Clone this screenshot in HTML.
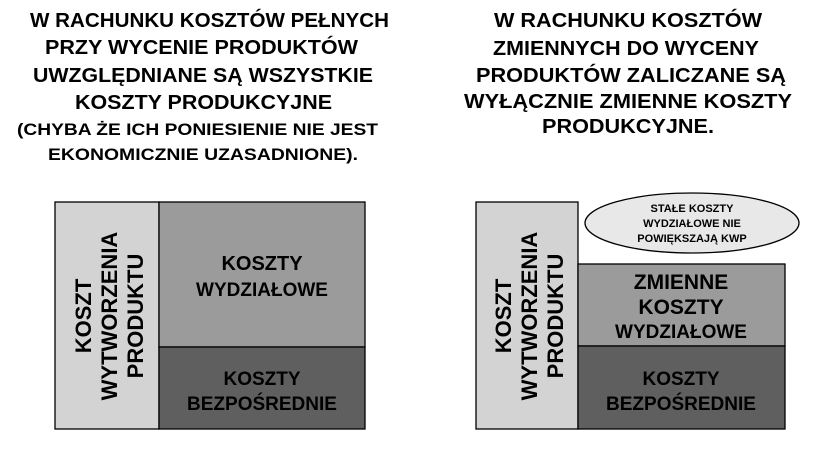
<!DOCTYPE html>
<html><head><meta charset="utf-8"><style>
html,body{margin:0;padding:0;background:#fff;}
svg{display:block;}
text{font-family:"Liberation Sans",Arial,sans-serif;font-weight:bold;fill:#000;}
</style></head><body>
<svg width="828" height="466" viewBox="0 0 828 466" xmlns="http://www.w3.org/2000/svg">
<rect width="828" height="466" fill="#fff"/>
<!-- Left title -->
<g font-size="20">
<text x="30" y="27" textLength="359" lengthAdjust="spacingAndGlyphs">W RACHUNKU KOSZTÓW PEŁNYCH</text>
<text x="45" y="54" textLength="313" lengthAdjust="spacingAndGlyphs">PRZY WYCENIE PRODUKTÓW</text>
<text x="33" y="82" textLength="340" lengthAdjust="spacingAndGlyphs">UWZGLĘDNIANE SĄ WSZYSTKIE</text>
<text x="75" y="109" textLength="257" lengthAdjust="spacingAndGlyphs">KOSZTY PRODUKCYJNE</text>
</g>
<g font-size="17">
<text x="17" y="135" textLength="361" lengthAdjust="spacingAndGlyphs">(CHYBA ŻE ICH PONIESIENIE NIE JEST</text>
<text x="48" y="160" textLength="310" lengthAdjust="spacingAndGlyphs">EKONOMICZNIE UZASADNIONE).</text>
</g>
<!-- Right title -->
<g font-size="20">
<text x="494" y="27" textLength="268" lengthAdjust="spacingAndGlyphs">W RACHUNKU KOSZTÓW</text>
<text x="493" y="55" textLength="266" lengthAdjust="spacingAndGlyphs">ZMIENNYCH DO WYCENY</text>
<text x="476" y="82" textLength="310" lengthAdjust="spacingAndGlyphs">PRODUKTÓW ZALICZANE SĄ</text>
<text x="464" y="108" textLength="328" lengthAdjust="spacingAndGlyphs">WYŁĄCZNIE ZMIENNE KOSZTY</text>
<text x="542" y="133" textLength="172" lengthAdjust="spacingAndGlyphs">PRODUKCYJNE.</text>
</g>
<!-- Left diagram -->
<g stroke="#000" stroke-width="1.3">
<rect x="55" y="202" width="104" height="227" fill="#d3d3d3"/>
<rect x="159" y="202" width="206" height="145" fill="#9b9b9b"/>
<rect x="159" y="347" width="206" height="82" fill="#5f5f5f"/>
</g>
<g font-size="22" text-anchor="middle">
<text transform="translate(107,316) rotate(-90)"><tspan x="0" y="-16">KOSZT</tspan><tspan x="0" y="10">WYTWORZENIA</tspan><tspan x="0" y="36">PRODUKTU</tspan></text>
</g>
<g font-size="20" text-anchor="middle">
<text x="262" y="270">KOSZTY</text>
<text x="262" y="296" font-size="19">WYDZIAŁOWE</text>
<text x="262" y="385" font-size="19">KOSZTY</text>
<text x="262" y="410" font-size="19">BEZPOŚREDNIE</text>
</g>
<!-- Right diagram -->
<g stroke="#000" stroke-width="1.3">
<rect x="476" y="202" width="102" height="227" fill="#d3d3d3"/>
<rect x="578" y="264" width="207" height="82" fill="#9b9b9b"/>
<rect x="578" y="346" width="207" height="83" fill="#5f5f5f"/>
<ellipse cx="692" cy="223" rx="107" ry="30" fill="#e8e8e8"/>
</g>
<g font-size="22" text-anchor="middle">
<text transform="translate(527,316) rotate(-90)"><tspan x="0" y="-16">KOSZT</tspan><tspan x="0" y="10">WYTWORZENIA</tspan><tspan x="0" y="36">PRODUKTU</tspan></text>
</g>
<g text-anchor="middle">
<text x="681" y="289" font-size="21">ZMIENNE</text>
<text x="681" y="314" font-size="21">KOSZTY</text>
<text x="681" y="338" font-size="19">WYDZIAŁOWE</text>
<text x="681" y="385" font-size="19">KOSZTY</text>
<text x="681" y="410" font-size="19">BEZPOŚREDNIE</text>
<text x="692" y="212" font-size="11">STAŁE KOSZTY</text>
<text x="692" y="227" font-size="11">WYDZIAŁOWE NIE</text>
<text x="692" y="242" font-size="11">POWIĘKSZAJĄ KWP</text>
</g>
</svg>
</body></html>
